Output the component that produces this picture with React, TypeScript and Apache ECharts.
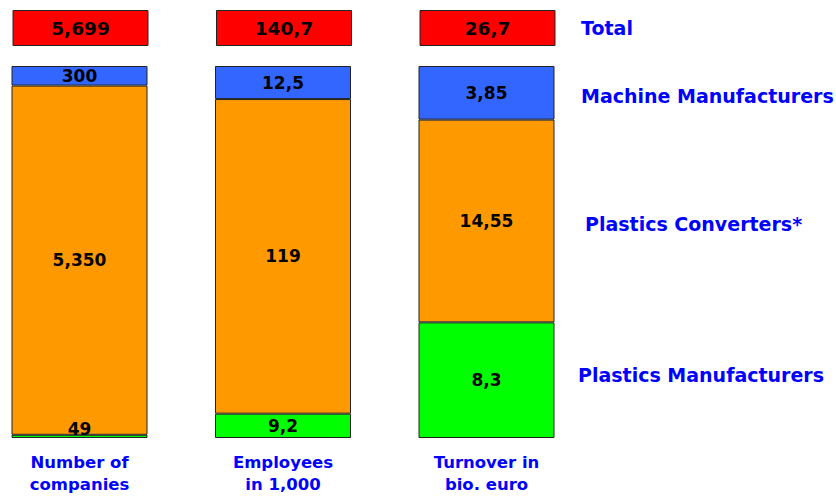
import React, { useEffect, useRef } from "react";
import * as echarts from "echarts";

const categories = ["Number of\ncompanies", "Employees\nin 1,000", "Turnover in\nbio. euro"];
const plasticsManufacturers = [49, 9.2, 8.3];
const plasticsConverters = [5350, 119, 14.55];
const machineManufacturers = [300, 12.5, 3.85];
const totals = [5699, 140.7, 26.7];

const manufacturersLabels = ["49", "9,2", "8,3"];
const convertersLabels = ["5,350", "119", "14,55"];
const machineLabels = ["300", "12,5", "3,85"];
const totalLabels = ["5,699", "140,7", "26,7"];

const seriesNames = ["Total", "Machine Manufacturers", "Plastics Converters*", "Plastics Manufacturers"];

const FONT = '"DejaVu Sans", Verdana, sans-serif';
const BLUE_TEXT = "#0000ff";

function share(values: number[]) {
  return values.map((v, i) => (v / totals[i]) * 100);
}

export default function App() {
  const ref = useRef<HTMLDivElement>(null);
  useEffect(() => {
    if (!ref.current) return;
    const chart = echarts.init(ref.current, null, { renderer: "svg" });
    const barLabel = (labels: string[]) => ({
      show: true,
      position: "inside",
      color: "#000",
      fontFamily: FONT,
      fontWeight: "bold",
      fontSize: 17,
      formatter: (p: any) => labels[p.dataIndex],
    });
    const itemBorder = { borderColor: "#222", borderWidth: 1 };
    const rightLabel = (text: string, x: number, y: number) => ({
      type: "text",
      x,
      y,
      style: {
        text,
        fill: BLUE_TEXT,
        font: `bold 19px ${FONT}`,
        align: "left",
        verticalAlign: "middle",
      },
    });
    chart.setOption({
      animation: false,
      grid: [
        { left: 79.5, width: 407, top: 66, height: 372 },
        { left: 80.5, width: 407, top: 10, height: 36 },
      ],
      xAxis: [
        {
          type: "category",
          gridIndex: 0,
          data: categories,
          boundaryGap: false,
          axisLine: { show: false },
          axisTick: { show: false },
          splitLine: { show: false },
          axisLabel: {
            color: BLUE_TEXT,
            fontFamily: FONT,
            fontWeight: "bold",
            fontSize: 16.5,
            lineHeight: 22,
            margin: 13,
            interval: 0,
          },
        },
        {
          type: "category",
          gridIndex: 1,
          data: categories,
          boundaryGap: false,
          show: false,
        },
      ],
      yAxis: [
        { type: "value", gridIndex: 0, min: 0, max: 100, show: false },
        { type: "value", gridIndex: 1, min: 0, max: 1, show: false },
      ],
      series: [
        {
          name: seriesNames[3],
          type: "bar",
          stack: "s",
          barWidth: 136,
          xAxisIndex: 0,
          yAxisIndex: 0,
          data: share(plasticsManufacturers).map((v, i) =>
            i === 0 ? { value: v, label: { offset: [0, -7] } } : v
          ),
          itemStyle: { color: "#00ff00", ...itemBorder },
          label: barLabel(manufacturersLabels),
        },
        {
          name: seriesNames[2],
          type: "bar",
          stack: "s",
          barWidth: 136,
          xAxisIndex: 0,
          yAxisIndex: 0,
          data: share(plasticsConverters),
          itemStyle: { color: "#ff9900", ...itemBorder },
          label: barLabel(convertersLabels),
        },
        {
          name: seriesNames[1],
          type: "bar",
          stack: "s",
          barWidth: 136,
          xAxisIndex: 0,
          yAxisIndex: 0,
          data: share(machineManufacturers),
          itemStyle: { color: "#3366ff", ...itemBorder },
          label: barLabel(machineLabels),
        },
        {
          name: seriesNames[0],
          type: "bar",
          barWidth: 136,
          xAxisIndex: 1,
          yAxisIndex: 1,
          data: totals.map(() => 1),
          itemStyle: { color: "#ff0000", ...itemBorder },
          label: { ...barLabel(totalLabels), fontSize: 18.5 },
        },
      ],
      graphic: [
        rightLabel(seriesNames[0], 581, 28),
        rightLabel(seriesNames[1], 581, 96),
        rightLabel(seriesNames[2], 585, 224),
        rightLabel(seriesNames[3], 578, 375),
      ],
    });
    return () => chart.dispose();
  }, []);
  return <div ref={ref} style={{ width: 836, height: 497, position: "absolute", left: 0, top: 0 }} />;
}
